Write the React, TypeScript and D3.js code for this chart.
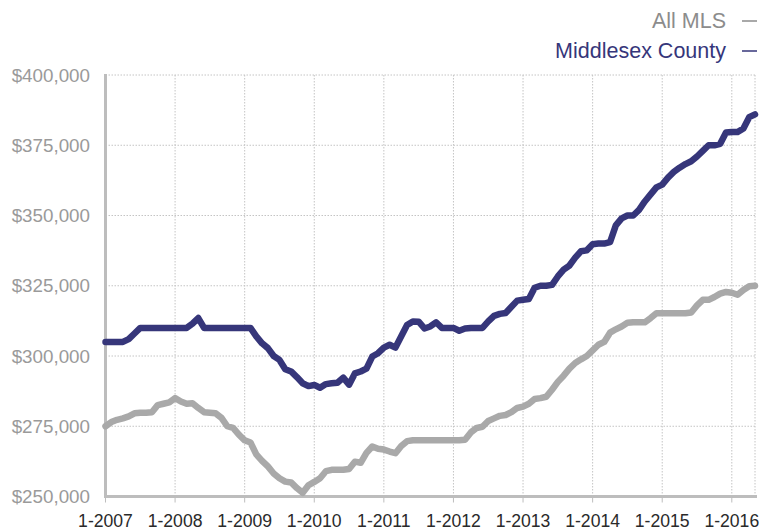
import React from "react";
import * as d3 from "d3";

const startYear = 2007;
const yearLabels = ["1-2007", "1-2008", "1-2009", "1-2010", "1-2011", "1-2012", "1-2013", "1-2014", "1-2015", "1-2016"];
const yTicks = [250000, 275000, 300000, 325000, 350000, 375000, 400000];
const seriesNames = ["All MLS", "Middlesex County"];

// Monthly values Jan 2007 .. May 2016 (in $ thousands)
const allMLS = [
  275, 276.5, 277.3, 277.8, 278.5, 279.6, 279.8, 279.8, 280, 282.5, 283, 283.5,
  285, 283.8, 283, 283.2, 281.5, 280, 279.8, 279.6, 278, 275, 274.4, 272,
  270, 269.2, 265, 262.7, 260.7, 258.2, 256.5, 255.3, 255, 253, 251.3, 254,
  255.2, 256.5, 259, 259.5, 259.5, 259.5, 259.8, 262.4, 262, 265.5, 267.8, 267,
  266.7, 266, 265.4, 268, 269.7, 270, 270, 270, 270, 270, 270, 270,
  270, 270, 270.2, 272.8, 274.4, 274.8, 276.9, 277.8, 278.7, 279, 280, 281.5,
  282, 283, 284.7, 285, 285.5, 288, 290.8, 293, 295.5, 297.5, 298.8, 300,
  302, 304, 305, 308.3, 309.5, 310.5, 311.8, 312, 312, 312, 313.5, 315.2,
  315.2, 315.2, 315.2, 315.2, 315.2, 315.5, 318, 320, 320, 321, 322.2, 322.8,
  322.5, 321.8, 323.5, 324.8, 325,
];
const middlesex = [
  305, 305, 305, 305, 306, 308, 310, 310, 310, 310, 310, 310,
  310, 310, 310, 311.5, 313.5, 310, 310, 310, 310, 310, 310, 310,
  310, 310, 307, 304.5, 302.8, 300, 298.6, 295.3, 294.5, 292.5, 290.3, 289.3,
  289.7, 288.7, 290, 290.3, 290.5, 292.3, 289.8, 293.8, 294.5, 295.5, 299.8, 301,
  303, 304, 303, 307, 311, 312.3, 312.2, 309.8, 310.5, 312, 310, 310,
  310, 309, 309.8, 310, 310, 310, 312.3, 314.3, 315, 315.3, 317.5, 319.7,
  320, 320.3, 324.3, 325, 325, 325.3, 328.3, 330.7, 332.2, 335, 337.3, 337.6,
  339.8, 340, 340, 340.5, 346.5, 349, 350, 350, 352, 355, 357.5, 360,
  361, 363.5, 365.5, 367, 368.3, 369.3, 371, 373, 375, 375, 375.5, 379.5,
  379.7, 379.7, 381, 385, 386,
];

const W = 776;
const H = 531;
const left = 105.5;
const right = 755;
const top = 75;
const bottom = 496.5;

const GRAY = "#a9a9a9";
const NAVY = "#36367a";

export default function App() {
  const n = allMLS.length;
  const x = d3.scaleLinear().domain([0, n - 1]).range([left, right]);
  const y = d3.scaleLinear().domain([250000, 400000]).range([bottom, top]);
  const line = d3
    .line<number>()
    .x((_, i) => x(i))
    .y((v) => y(v * 1000));

  const yearIdx = yearLabels.map((_, i) => i * 12);

  return (
    <svg
      width={W}
      height={H}
      style={{ position: "absolute", left: 0, top: 0, background: "#fff" }}
      fontFamily="'Liberation Sans', Arial, Helvetica, sans-serif"
    >
      {/* horizontal grid */}
      {yTicks.slice(1).map((t) => (
        <line
          key={"h" + t}
          x1={left}
          x2={right}
          y1={y(t)}
          y2={y(t)}
          stroke="#c4c4c4"
          strokeWidth={1}
          strokeDasharray="1.5,1.5"
        />
      ))}
      {/* vertical grid */}
      {yearIdx.slice(1).map((m) => (
        <line
          key={"v" + m}
          x1={x(m)}
          x2={x(m)}
          y1={top}
          y2={bottom}
          stroke="#c4c4c4"
          strokeWidth={1}
          strokeDasharray="1.5,1.5"
        />
      ))}
      <line x1={right} x2={right} y1={top} y2={bottom} stroke="#c4c4c4" strokeWidth={1} strokeDasharray="1.5,1.5" />

      {/* axes */}
      <line x1={left} x2={left} y1={top - 1} y2={bottom + 1.5} stroke="#bdbdbd" strokeWidth={3} />
      <line x1={left - 1.5} x2={right + 2} y1={bottom} y2={bottom} stroke="#bdbdbd" strokeWidth={3} />
      {yearIdx.map((m) => (
        <line key={"t" + m} x1={x(m)} x2={x(m)} y1={bottom} y2={bottom + 6} stroke="#bdbdbd" strokeWidth={1} />
      ))}

      {/* y labels */}
      {yTicks.map((t) => (
        <text
          key={"yl" + t}
          x={90}
          y={y(t)}
          dy="0.35em"
          textAnchor="end"
          fontSize={18.8}
          fill="#9a9a9a"
        >
          {d3.format("$,")(t)}
        </text>
      ))}

      {/* x labels */}
      {yearLabels.map((lab, i) => (
        <text key={lab} x={x(yearIdx[i])} y={527} textAnchor="middle" fontSize={17.6} fill="#2a2a2a">
          {lab}
        </text>
      ))}

      {/* series */}
      <path d={line(allMLS) || ""} fill="none" stroke={GRAY} strokeWidth={6.5} strokeLinejoin="round" strokeLinecap="round" />
      <path d={line(middlesex) || ""} fill="none" stroke={NAVY} strokeWidth={6.5} strokeLinejoin="round" strokeLinecap="round" />

      {/* legend */}
      <text x={726} y={28} textAnchor="end" fontSize={21.5} fill="#8c8c8c">
        {seriesNames[0]}
      </text>
      <line x1={742} x2={757} y1={21} y2={21} stroke="#8c8c8c" strokeWidth={1.5} />
      <text x={726} y={58} textAnchor="end" fontSize={21.5} fill={NAVY}>
        {seriesNames[1]}
      </text>
      <line x1={742} x2={757} y1={51} y2={51} stroke={NAVY} strokeWidth={1.5} />
    </svg>
  );
}
